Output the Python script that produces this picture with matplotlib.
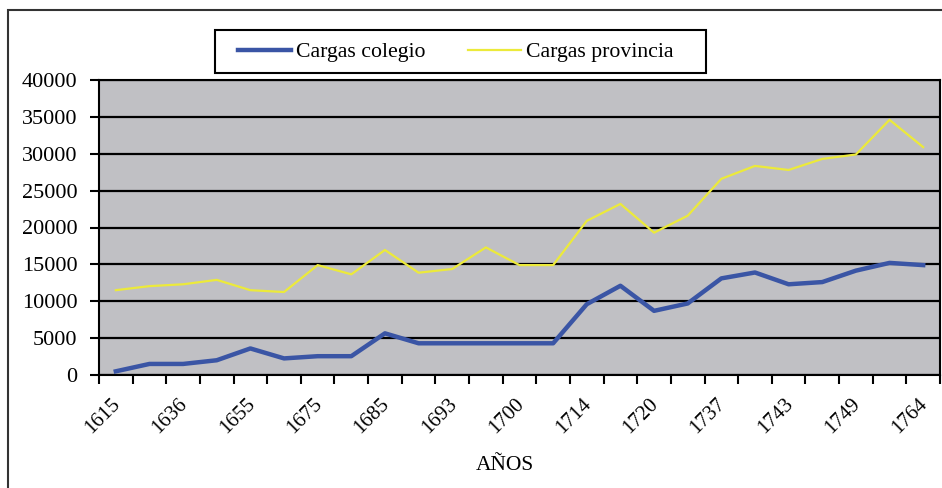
import matplotlib
matplotlib.use("Agg")
import matplotlib.pyplot as plt
import matplotlib.transforms as mtransforms
from matplotlib.patches import Rectangle

# valores (25 periodos, se rotula uno de cada dos)
year_labels = ["1615", "1636", "1655", "1675", "1685", "1693", "1700",
               "1714", "1720", "1737", "1743", "1749", "1764"]
cargas_colegio = [500, 1500, 1500, 2000, 3600, 2250, 2550, 2550, 5650, 4300,
                  4300, 4300, 4300, 4300, 9600, 12100, 8700, 9700, 13100, 13900,
                  12300, 12600, 14150, 15200, 14900]
cargas_provincia = [11500, 12050, 12300, 12900, 11500, 11250, 14900, 13650, 16950, 13870,
                    14370, 17300, 14900, 14900, 20900, 23200, 19300, 21600, 26600, 28350,
                    27800, 29300, 29900, 34600, 30900]

plt.rcParams["font.family"] = ["Liberation Serif", "DejaVu Serif"]

W, H = 942, 488
fig = plt.figure(figsize=(W / 100, H / 100), dpi=100)
ax = fig.add_axes([99 / W, 1 - 375 / H, (940 - 99) / W, (375 - 80) / H])

n = len(cargas_colegio)
x = list(range(n))
ax.set_facecolor("#c0c0c4")
ax.plot(x, cargas_colegio, color="#3a55a5", lw=3.2, label="Cargas colegio", zorder=3)
ax.plot(x, cargas_provincia, color="#ecea3a", lw=1.6, label="Cargas provincia", zorder=3)

ax.set_xlim(-0.5, n - 0.5)
ax.set_ylim(0, 40000)
ax.set_yticks(range(0, 40001, 5000))
ax.yaxis.grid(True, color="black", lw=1.6)
ax.set_axisbelow(True)

ax.set_xticks(range(0, n, 2))
ax.set_xticklabels(year_labels, rotation=45, ha="right", rotation_mode="anchor")
ax.set_xticks([i - 0.5 for i in range(n + 1)], minor=True)
ax.tick_params(axis="x", which="major", length=0, pad=14, labelsize=15)
ax.tick_params(axis="x", which="minor", length=6.5, width=1.5, direction="out")
ax.tick_params(axis="y", length=6.5, width=1.5, labelsize=16, pad=9)

# las etiquetas de los anos quedan un poco a la izquierda del punto
shift = mtransforms.ScaledTranslation(-5 / 100, 0, fig.dpi_scale_trans)
for lab in ax.get_xticklabels():
    lab.set_transform(lab.get_transform() + shift)

for side in ["left", "bottom", "top", "right"]:
    ax.spines[side].set_color("black")
    ax.spines[side].set_linewidth(1.5)

fig.text(505 / W, 1 - 466 / H, "AÑOS", ha="center", va="center", fontsize=15.5)

# leyenda sin marco y recuadro dibujado aparte
leg = fig.legend(loc="center left", bbox_to_anchor=(238 / W, 1 - 52 / H), ncol=2,
                 fontsize=15.7, frameon=False, handlelength=2.45,
                 handletextpad=0.2, columnspacing=1.95,
                 borderpad=0, borderaxespad=0)
fig.patches.append(Rectangle((215 / W, 1 - 73 / H), (706 - 215) / W, 43 / H,
                             transform=fig.transFigure, fill=False,
                             edgecolor="black", lw=1.5))

# marco exterior del grafico
fig.patches.append(Rectangle((8 / W, -0.1), 1.2, 1 - 10 / H + 0.1,
                             transform=fig.transFigure, fill=False,
                             edgecolor="#333333", lw=1.5))

fig.savefig("out.png", dpi=100)
